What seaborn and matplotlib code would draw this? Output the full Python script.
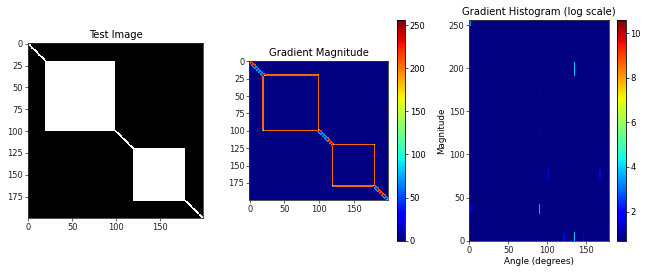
import numpy as np
import matplotlib
matplotlib.use("Agg")
import matplotlib.pyplot as plt
import seaborn as sns

# ---------------- data ----------------
img_size = 200
# white squares: (row0, row1, col0, col1)
square_rows0 = [20, 120]
square_rows1 = [100, 180]
square_cols0 = [20, 120]
square_cols1 = [100, 180]
line_halfwidth = 1          # diagonal white line, |row-col| <= halfwidth
white_level = 255
edge_magnitude = 205

image_ticks = [0, 25, 50, 75, 100, 125, 150, 175]
image_xticks = [0, 50, 100, 150]
mag_cbar_ticks = [0, 50, 100, 150, 200, 250]
mag_max = 256

# gradient histogram hot spots: angle range, magnitude range, log count
spot_angle_lo = [0, 0, 89, 89, 89, 101, 121, 134, 134, 146, 167]
spot_angle_hi = [2, 2, 91, 91, 91, 103, 123, 136, 136, 148, 169]
spot_mag_lo = [249, 33, 31, 121, 171, 73, 0, 0, 191, 0, 73]
spot_mag_hi = [256, 41, 42, 129, 178, 82, 9, 10, 207, 8, 82]
spot_logval = [3.3, 2.0, 3.6, 1.4, 1.3, 2.0, 2.0, 3.8, 3.9, 1.7, 1.8]
hist_log_min = 0.69
hist_log_max = 10.6
angle_bins = 180
mag_bins = 256
hist_xticks = [0, 50, 100, 150]
hist_yticks = [0, 50, 100, 150, 200, 250]
hist_cbar_ticks = [2, 4, 6, 8, 10]

# ---------------- build arrays ----------------
img = np.zeros((img_size, img_size))
for r0, r1, c0, c1 in zip(square_rows0, square_rows1, square_cols0, square_cols1):
    img[r0:r1, c0:c1] = white_level
idx = np.arange(img_size)
img[np.abs(np.subtract.outer(idx, idx)) <= line_halfwidth] = white_level

# Sobel gradient
p = np.pad(img, 1, mode="reflect")
gx = (p[:-2, 2:] + 2 * p[1:-1, 2:] + p[2:, 2:]) - (p[:-2, :-2] + 2 * p[1:-1, :-2] + p[2:, :-2])
gy = (p[2:, :-2] + 2 * p[2:, 1:-1] + p[2:, 2:]) - (p[:-2, :-2] + 2 * p[:-2, 1:-1] + p[:-2, 2:])
mag = np.hypot(gx, gy)
mag = mag / (4 * white_level) * edge_magnitude

hist = np.zeros((mag_bins, angle_bins))
for a0, a1, m0, m1, v in zip(spot_angle_lo, spot_angle_hi, spot_mag_lo, spot_mag_hi, spot_logval):
    hist[m0:m1, a0:a1] = v

# ---------------- plot ----------------
fig = plt.figure(figsize=(6.55, 2.73), dpi=100)
TS = 7.2
LS = 6.0


def style(ax):
    for s in ax.spines.values():
        s.set_visible(True)
        s.set_linewidth(0.6)
        s.set_color("#333333")
    ax.tick_params(labelsize=LS, length=2, width=0.5, pad=1.5, colors="#222222")


ax1 = fig.add_axes([0.0427, 0.2015, 0.2672, 0.640])
sns.heatmap(img, ax=ax1, cmap="gray", vmin=0, vmax=255, cbar=False,
            xticklabels=False, yticklabels=False)
ax1.set_xticks(np.array(image_xticks) + 0.5, labels=[str(t) for t in image_xticks], rotation=0)
ax1.set_yticks(np.array(image_ticks) + 0.5, labels=[str(t) for t in image_ticks], rotation=0)
ax1.set_title("Test Image", fontsize=TS, pad=3.5)
style(ax1)

ax2 = fig.add_axes([0.3806, 0.2674, 0.2122, 0.5092])
cax2 = fig.add_axes([0.6056, 0.1183, 0.0127, 0.8084])
sns.heatmap(mag, ax=ax2, cmap="jet", vmin=0, vmax=mag_max, cbar_ax=cax2,
            xticklabels=False, yticklabels=False)
ax2.set_xticks(np.array(image_xticks) + 0.5, labels=[str(t) for t in image_xticks], rotation=0)
ax2.set_yticks(np.array(image_ticks) + 0.5, labels=[str(t) for t in image_ticks], rotation=0)
ax2.set_title("Gradient Magnitude", fontsize=TS, pad=3.5)
style(ax2)
cb2 = ax2.collections[0].colorbar
cb2.set_ticks(mag_cbar_ticks)
cb2.outline.set_linewidth(0.6)
cb2.outline.set_visible(True)
cb2.ax.tick_params(labelsize=LS, length=2, width=0.5, pad=1.5)

ax3 = fig.add_axes([0.7165, 0.1183, 0.2137, 0.8084])
cax3 = fig.add_axes([0.9415, 0.1183, 0.0137, 0.8084])
sns.heatmap(hist, ax=ax3, cmap="jet", vmin=hist_log_min, vmax=hist_log_max, cbar_ax=cax3,
            xticklabels=False, yticklabels=False)
ax3.set_ylim(0, mag_bins)
ax3.set_xlim(0, angle_bins)
ax3.set_xticks(hist_xticks, labels=[str(t) for t in hist_xticks], rotation=0)
ax3.set_yticks(hist_yticks, labels=[str(t) for t in hist_yticks], rotation=0)
ax3.set_title("Gradient Histogram (log scale)", fontsize=TS, pad=3.5)
ax3.set_xlabel("Angle (degrees)", fontsize=LS + 0.3, labelpad=2)
ax3.set_ylabel("Magnitude", fontsize=LS + 0.3, labelpad=2)
style(ax3)
cb3 = ax3.collections[0].colorbar
cb3.set_ticks(hist_cbar_ticks)
cb3.outline.set_linewidth(0.6)
cb3.outline.set_visible(True)
cb3.ax.tick_params(labelsize=LS, length=2, width=0.5, pad=1.5)

fig.savefig("out.png", dpi=100)
